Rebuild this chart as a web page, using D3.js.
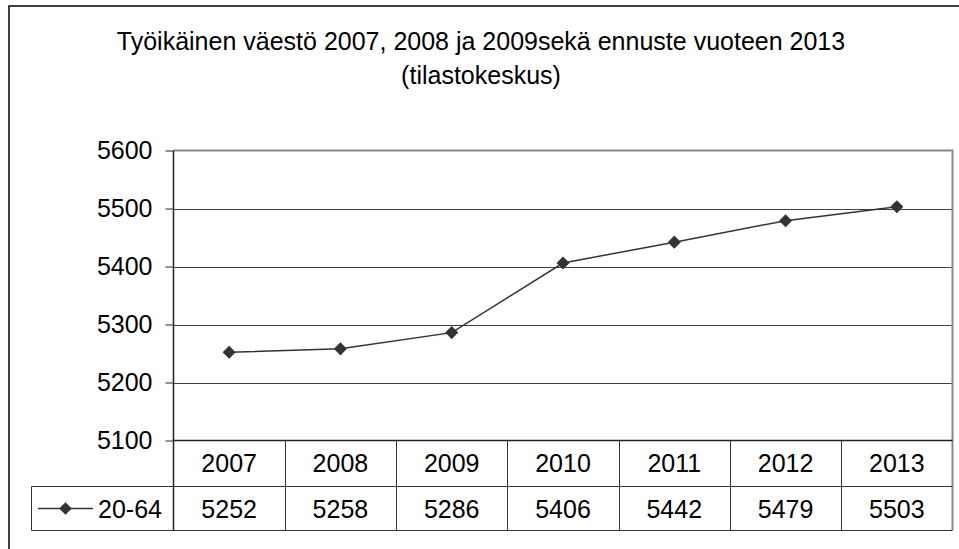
<!DOCTYPE html>
<html><head><meta charset="utf-8">
<script src="https://cdn.jsdelivr.net/npm/d3@7"></script>
<style>body{margin:0;background:#fff}svg{display:block}text{font-family:"Liberation Sans",Arial,sans-serif;fill:#000}</style>
</head><body>
<script>
const years = ["2007","2008","2009","2010","2011","2012","2013"];
const values = [5252,5258,5286,5406,5442,5479,5503];
const seriesName = "20-64";
const yTicks = [5100,5200,5300,5400,5500,5600];
const titleLines = ["Työikäinen väestö 2007, 2008 ja 2009sekä ennuste vuoteen 2013","(tilastokeskus)"];

const W=959,H=549;
const svg=d3.select("body").append("svg").attr("width",W).attr("height",H);
svg.append("rect").attr("width",W).attr("height",H).attr("fill","#fff");
// outer border
svg.append("rect").attr("x",9).attr("y",6).attr("width",960).attr("height",560)
  .attr("fill","none").attr("stroke","#000").attr("stroke-width",1.5);

const L=173.5,R=952.5,T=150.5,B=440.5;
const x=d3.scaleBand().domain(years).range([L,R]);
const y=d3.scaleLinear().domain([5100,5600]).range([B,T]);

// title
svg.append("g").selectAll("text").data(titleLines).join("text")
  .attr("x",481).attr("y",(d,i)=>50+i*34).attr("text-anchor","middle")
  .attr("font-size",25).text(d=>d);

// gridlines
svg.append("g").selectAll("line").data(yTicks.slice(1,-1)).join("line")
  .attr("x1",L).attr("x2",R).attr("y1",d=>Math.round(y(d))+0.5).attr("y2",d=>Math.round(y(d))+0.5)
  .attr("stroke","#404040").attr("stroke-width",1);
// plot top and right border (gray)
svg.append("path").attr("d",`M${L},${T}H${R}V${530.5}`).attr("fill","none").attr("stroke","#888").attr("stroke-width",2);

// y axis
const yAxis=d3.axisLeft(y).tickValues(yTicks).tickSize(8).tickPadding(13).tickFormat(d3.format("d"));
const ga=svg.append("g").attr("transform",`translate(${L},0)`).call(yAxis);
ga.select(".domain").remove();
ga.selectAll(".tick line").attr("stroke","#222");
ga.selectAll(".tick text").attr("font-size",25).attr("fill","#000").style("font-family","Liberation Sans, Arial, sans-serif");
svg.append("line").attr("x1",L).attr("x2",L).attr("y1",T).attr("y2",530.5).attr("stroke","#222").attr("stroke-width",1.5);
svg.append("line").attr("x1",L).attr("x2",R).attr("y1",B).attr("y2",B).attr("stroke","#222").attr("stroke-width",1.5);

// data table
const r1=486.5,r2=530.5;
svg.append("g").selectAll("line").data(years.slice(1)).join("line")
  .attr("x1",d=>Math.round(x(d))+0.5).attr("x2",d=>Math.round(x(d))+0.5).attr("y1",B).attr("y2",r2)
  .attr("stroke","#333").attr("stroke-width",1);
svg.append("line").attr("x1",31.5).attr("x2",R).attr("y1",r1).attr("y2",r1).attr("stroke","#333");
svg.append("line").attr("x1",31.5).attr("x2",R).attr("y1",r2).attr("y2",r2).attr("stroke","#333");
svg.append("line").attr("x1",31.5).attr("x2",31.5).attr("y1",r1).attr("y2",r2).attr("stroke","#333");
svg.append("g").selectAll("text").data(years).join("text")
  .attr("x",d=>x(d)+x.bandwidth()/2).attr("y",472).attr("text-anchor","middle").attr("font-size",25).text(d=>d);
svg.append("g").selectAll("text").data(values).join("text")
  .attr("x",(d,i)=>x(years[i])+x.bandwidth()/2).attr("y",517.5).attr("text-anchor","middle").attr("font-size",25).text(d=>d);

// legend key
svg.append("line").attr("x1",38).attr("x2",93).attr("y1",508.5).attr("y2",508.5).attr("stroke","#333").attr("stroke-width",1.5);
svg.append("path").attr("d",d3.symbol().type(d3.symbolSquare).size(80)()).attr("transform","translate(65.5,508.5) rotate(45)").attr("fill","#333");
svg.append("text").attr("x",98).attr("y",517.5).attr("font-size",25).text(seriesName);

// line
const line=d3.line().x((d,i)=>x(years[i])+x.bandwidth()/2).y(d=>y(d));
svg.append("path").datum(values).attr("d",line).attr("fill","none").attr("stroke","#333").attr("stroke-width",1.5);
svg.append("g").selectAll("path").data(values).join("path")
  .attr("d",d3.symbol().type(d3.symbolSquare).size(85)())
  .attr("transform",(d,i)=>`translate(${x(years[i])+x.bandwidth()/2},${y(d)}) rotate(45)`)
  .attr("fill","#333");
</script>
</body></html>
